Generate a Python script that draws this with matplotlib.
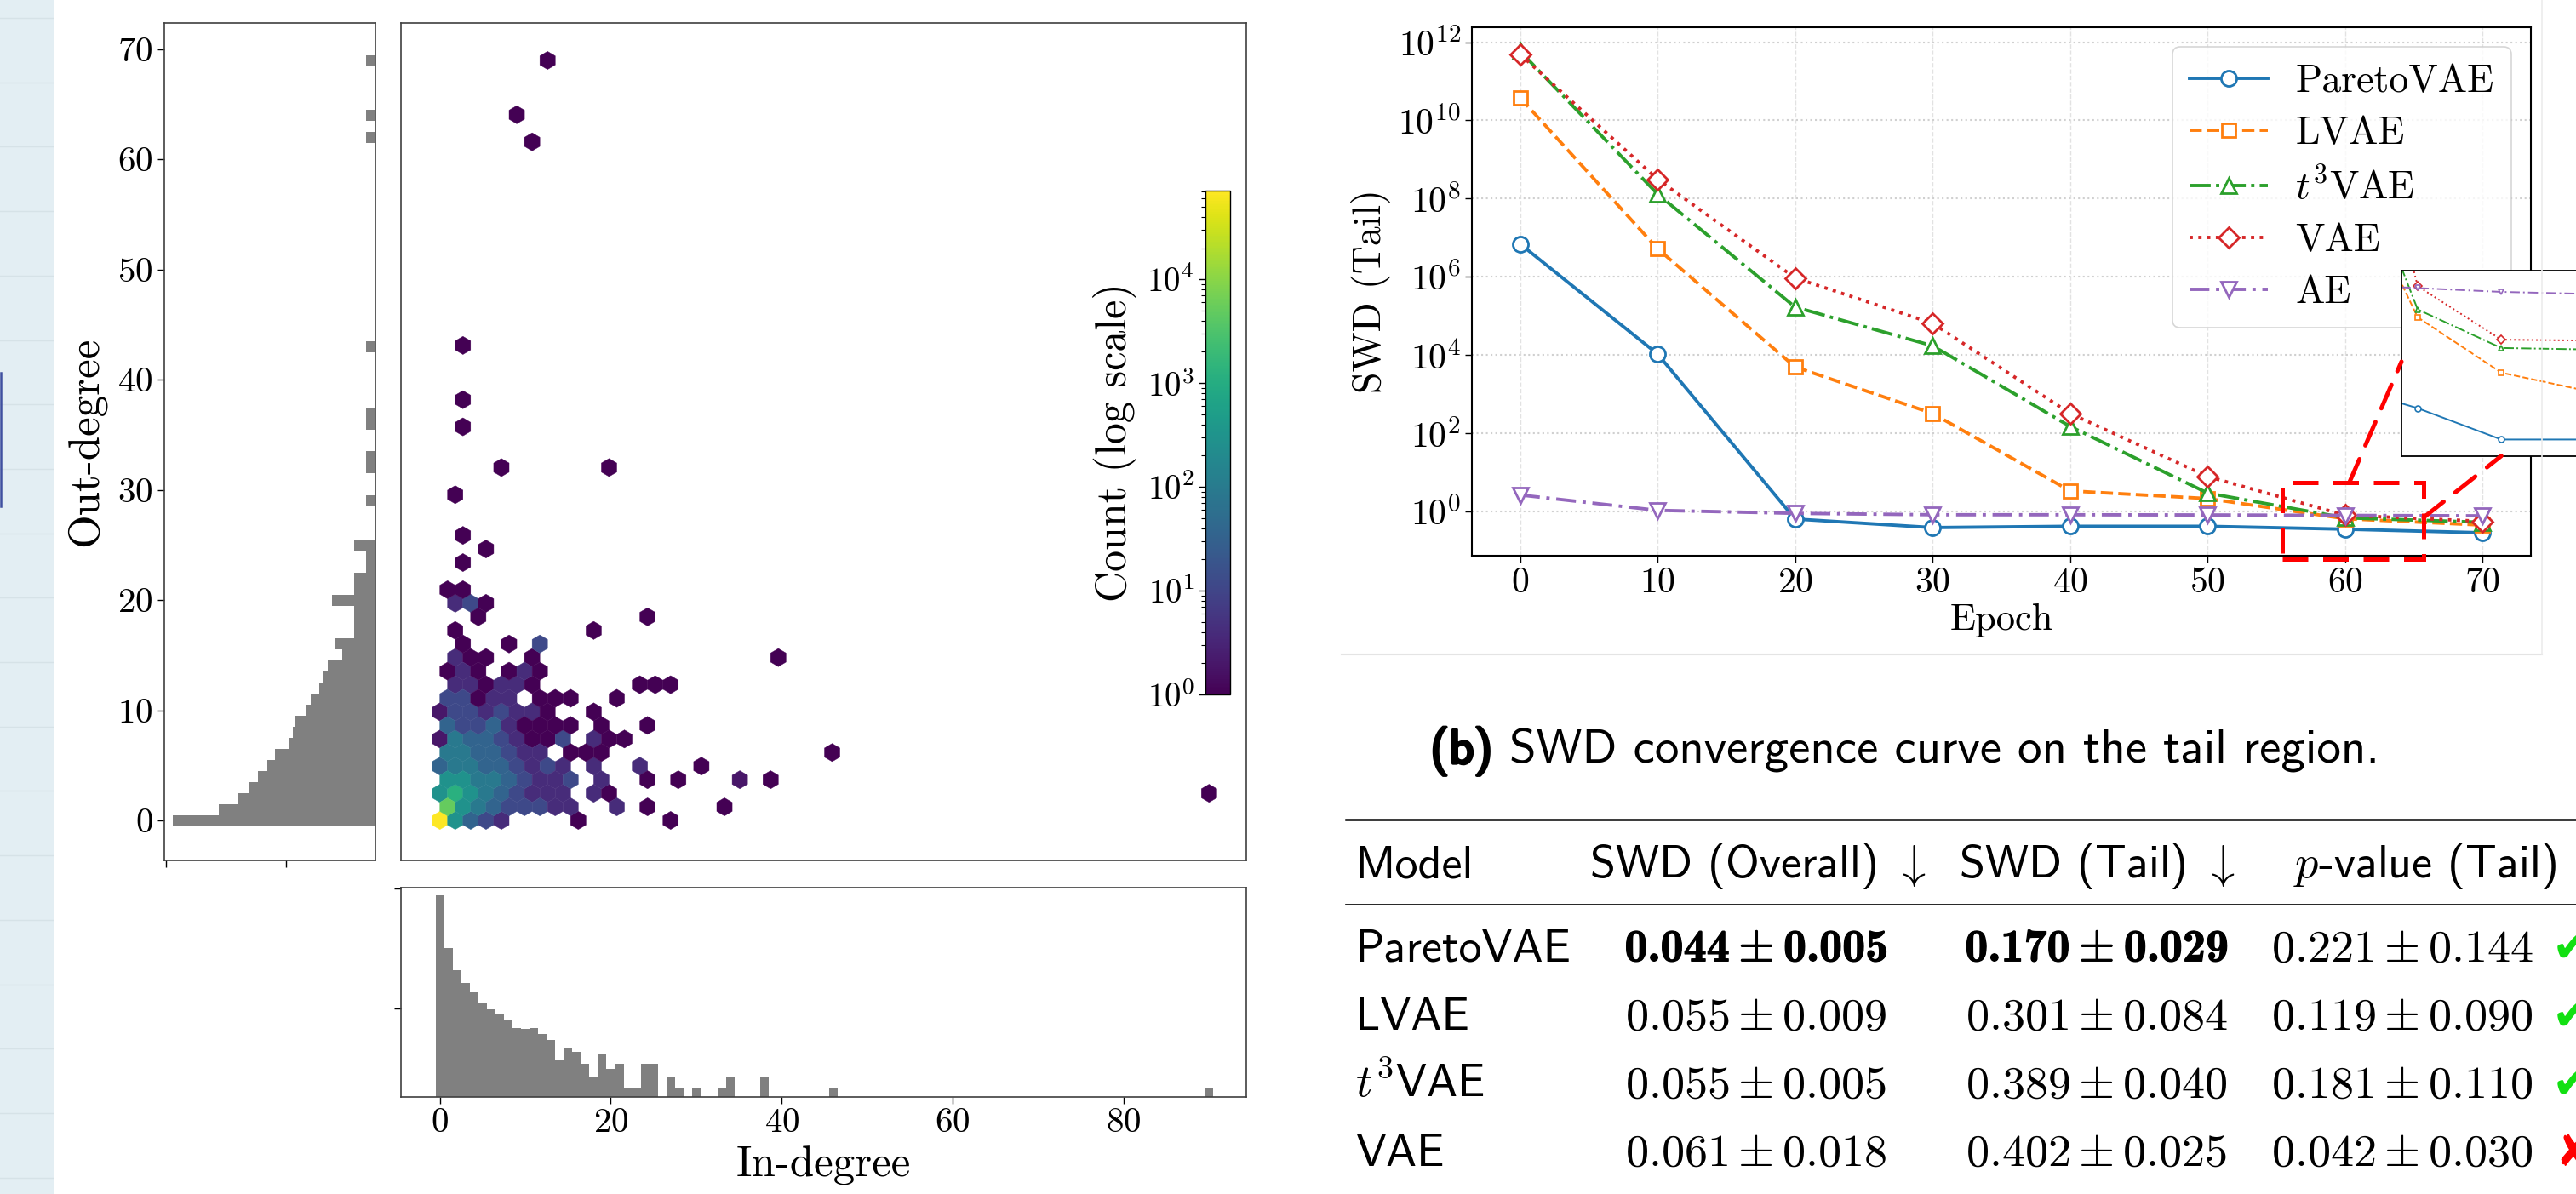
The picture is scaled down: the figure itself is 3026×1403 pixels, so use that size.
import numpy as np
import matplotlib
matplotlib.use('Agg')
import matplotlib.pyplot as plt
from matplotlib.patches import Rectangle, ConnectionPatch
from matplotlib.lines import Line2D
import matplotlib.patheffects as pe
from matplotlib.ticker import NullLocator, FixedLocator

# ---------------- data: hexbin cells (in-degree, out-degree, node count) ----------------
hex_in_degree = [
    0, 2, 4, 5, 7, 16, 27,                                  # out 0
    1, 3, 4, 6, 8, 10, 12, 13, 15, 21, 24, 33,              # out 1
    0, 2, 4, 5, 7, 9, 11, 13, 14, 18, 20, 90,               # out 2
    1, 3, 4, 6, 8, 10, 12, 13, 15, 19, 24, 28, 35, 39,      # out 4
    0, 2, 4, 5, 7, 9, 11, 13, 14, 18, 23, 31,               # out 5
    1, 3, 4, 6, 8, 10, 12, 15, 17, 19, 46,                  # out 6
    0, 2, 4, 5, 7, 9, 11, 13, 14, 18, 20, 22,               # out 7
    1, 3, 4, 6, 8, 10, 12, 13, 15, 19, 24,                  # out 9
    0, 2, 4, 5, 7, 9, 11, 13, 18,                           # out 10
    1, 3, 4, 6, 8, 12, 13, 15, 21,                          # out 11
    2, 4, 5, 7, 9, 11, 23, 25, 27,                          # out 12
    1, 3, 4, 8, 10, 12,                                     # out 14
    2, 4, 5, 11, 40,                                        # out 15
    3, 8, 12,                                               # out 16
    2, 18, 5, 24, 2, 4, 5, 1, 3, 3, 5, 3, 2, 7, 20, 3, 3, 3, 11, 9, 13,
]
hex_out_degree = [
    0, 0, 0, 0, 0, 0, 0,
    1, 1, 1, 1, 1, 1, 1, 1, 1, 1, 1, 1,
    2, 2, 2, 2, 2, 2, 2, 2, 2, 2, 2, 2,
    4, 4, 4, 4, 4, 4, 4, 4, 4, 4, 4, 4, 4, 4,
    5, 5, 5, 5, 5, 5, 5, 5, 5, 5, 5, 5,
    6, 6, 6, 6, 6, 6, 6, 6, 6, 6, 6,
    7, 7, 7, 7, 7, 7, 7, 7, 7, 7, 7, 7,
    9, 9, 9, 9, 9, 9, 9, 9, 9, 9, 9,
    10, 10, 10, 10, 10, 10, 10, 10, 10,
    11, 11, 11, 11, 11, 11, 11, 11, 11,
    12, 12, 12, 12, 12, 12, 12, 12, 12,
    14, 14, 14, 14, 14, 14,
    15, 15, 15, 15, 15,
    16, 16, 16,
    17, 17, 18, 18, 20, 20, 20, 21, 21, 23, 25, 26, 30, 32, 32, 36, 38, 43, 62, 64, 69,
]
hex_count = [
    71600, 300, 35, 12, 4, 1, 1,
    5000, 300, 90, 35, 12, 12, 12, 4, 4, 4, 1, 1,
    300, 1200, 300, 90, 35, 12, 4, 4, 4, 4, 1, 1,
    300, 300, 90, 90, 35, 12, 4, 4, 12, 4, 1, 1, 2, 1,
    35, 90, 90, 35, 35, 12, 4, 12, 4, 4, 4, 1,
    90, 90, 35, 35, 12, 4, 4, 1, 1, 1, 1,
    2, 90, 35, 35, 12, 4, 1, 1, 12, 4, 1, 1,
    35, 12, 12, 35, 4, 1, 1, 1, 1, 1, 1,
    2, 12, 12, 4, 12, 4, 4, 1, 1,
    12, 12, 1, 4, 4, 1, 1, 1, 1,
    4, 4, 1, 4, 4, 1, 1, 1, 1,
    1, 4, 1, 1, 4, 1,
    4, 1, 1, 1, 1,
    1, 1, 12,
    1, 1, 1, 1, 4, 12, 1, 1, 1, 1, 1, 1, 1, 1, 1, 1, 1, 1, 1, 1, 1,
]

# marginal histograms (count of nodes per degree value)
in_degree_values = list(range(0, 26)) + [27, 28, 30, 33, 34, 38, 46, 90]
in_degree_counts = [70000, 3200, 910, 430, 250, 135, 97, 70, 52, 32, 30, 32, 23, 16, 5,
                    10, 8, 4, 2, 7, 3, 4, 1, 1, 4, 4, 2, 1, 1, 1, 2, 2, 1, 1]
out_degree_values = list(range(0, 26)) + [29, 32, 33, 36, 37, 43, 62, 64, 69]
out_degree_counts = [66000, 4800, 1650, 870, 490, 300, 190, 88, 69, 58, 33, 24, 15, 12, 9,
                     4, 6, 2, 2, 2, 7, 2, 2, 1, 1, 2, 1, 1, 1, 1, 1, 1, 1, 1, 1]

# ---------------- data: SWD convergence ----------------
epochs = [0, 10, 20, 30, 40, 50, 60, 70, 80]
main_last_epoch = 70
swd_pareto = [6.9e6, 1.05e4, 0.63, 0.38, 0.41, 0.41, 0.346, 0.28, 0.28]
swd_lvae = [3.8e10, 5.2e6, 4900, 316, 3.3, 2.1, 0.64, 0.44, 0.39]
swd_t3vae = [5.9e11, 1.3e8, 1.67e5, 1.7e4, 147, 2.9, 0.675, 0.52, 0.515]
swd_vae = [4.9e11, 3.1e8, 9.3e5, 6.4e4, 316, 7.7, 0.79, 0.55, 0.547]
swd_ae = [2.6, 1.05, 0.88, 0.81, 0.81, 0.80, 0.78, 0.76, 0.75]
series_labels = ['ParetoVAE', 'LVAE', r'$t^3$VAE', 'VAE', 'AE']

# ---------------- data: table ----------------
model_names = ['ParetoVAE', 'LVAE', r'$t^3$VAE', 'VAE']
swd_overall_mean = [0.044, 0.055, 0.055, 0.061]
swd_overall_std = [0.005, 0.009, 0.005, 0.018]
swd_tail_mean = [0.170, 0.301, 0.389, 0.402]
swd_tail_std = [0.029, 0.084, 0.040, 0.025]
pval_mean = [0.221, 0.119, 0.181, 0.042]
pval_std = [0.144, 0.090, 0.110, 0.030]
pval_pass = [True, True, True, False]

# ---------------- style ----------------
plt.rcParams.update({
    'font.family': 'serif',
    'font.serif': ['cmr10'],
    'mathtext.fontset': 'cm',
    'axes.formatter.use_mathtext': True,
    'axes.unicode_minus': False,
})

W, H = 3026, 1403
fig = plt.figure(figsize=(W / 100, H / 100), dpi=100)


def rect(x0, y0, x1, y1):
    return [x0 / W, 1 - y1 / H, (x1 - x0) / W, (y1 - y0) / H]


def fx(x):
    return x / W


def fy(y):
    return 1 - y / H


# ---------------- left page strip ----------------
ax_bg = fig.add_axes(rect(0, 0, 63, H))
ax_bg.set_facecolor('#e3eef3')
ax_bg.set_xlim(0, 1)
ax_bg.set_ylim(H, 0)
for yy in np.arange(21, H, 75.7):
    ax_bg.axhline(yy, color='#d6e2e7', lw=1)
for s in ax_bg.spines.values():
    s.set_visible(False)
ax_bg.set_xticks([])
ax_bg.set_yticks([])
fig.add_artist(Line2D([fx(1), fx(1)], [fy(438), fy(595)], color='#4050a0', lw=1.8))

spine_c = '#404040'
# ---------------- main hexbin ----------------
ax_m = fig.add_axes(rect(471, 27, 1464, 1011))
hb = ax_m.hexbin(hex_in_degree, hex_out_degree, C=hex_count, reduce_C_function=np.sum,
                 gridsize=50, bins='log', cmap='viridis', linewidths=0.3)
ax_m.set_xlim(-4.55, 94.35)
ax_m.set_ylim(-3.63, 72.4)
ax_m.tick_params(which='both', bottom=False, left=False, labelbottom=False, labelleft=False)
for s in ax_m.spines.values():
    s.set_color(spine_c)
    s.set_linewidth(1.2)

# colorbar
cax = fig.add_axes(rect(1416, 224, 1445, 816))
cb = fig.colorbar(hb, cax=cax)
cax.yaxis.set_ticks_position('left')
cax.yaxis.set_label_position('left')
cb.set_label('Count (log scale)', fontsize=36, labelpad=8)
cax.tick_params(which='major', labelsize=28, length=6, width=1)
cax.tick_params(which='minor', length=3.5, width=0.8)
cb.outline.set_linewidth(1)

# ---------------- left marginal (out-degree) ----------------
ax_l = fig.add_axes(rect(193, 27, 441, 1011))
ax_l.hist(out_degree_values, bins=np.arange(-0.5, 70.5, 1), weights=out_degree_counts,
          orientation='horizontal', color='#808080', log=True)
ax_l.set_xscale('log')
ax_l.set_xlim(10 ** 5.04, 10 ** -0.234)
ax_l.set_ylim(-3.63, 72.4)
ax_l.xaxis.set_major_locator(FixedLocator([1e2, 1e5]))
ax_l.xaxis.set_minor_locator(NullLocator())
ax_l.tick_params(axis='x', labelbottom=False, length=6, width=1)
ax_l.set_yticks([0, 10, 20, 30, 40, 50, 60, 70])
ax_l.tick_params(axis='y', labelsize=29.5, length=6, width=1)
ax_l.set_ylabel('Out-degree', fontsize=36.7, labelpad=10)
for s in ax_l.spines.values():
    s.set_color(spine_c)
    s.set_linewidth(1.2)

# ---------------- bottom marginal (in-degree) ----------------
ax_b = fig.add_axes(rect(471, 1043, 1464, 1289))
ax_b.hist(in_degree_values, bins=np.arange(-0.5, 91.5, 1), weights=in_degree_counts,
          color='#808080', log=True)
ax_b.set_yscale('log')
ax_b.set_ylim(10 ** -0.22, 10 ** 5.03)
ax_b.set_xlim(-4.55, 94.35)
ax_b.yaxis.set_major_locator(FixedLocator([1e2, 1e5]))
ax_b.yaxis.set_minor_locator(NullLocator())
ax_b.tick_params(axis='y', labelleft=False, length=6, width=1)
ax_b.set_xticks([0, 20, 40, 60, 80])
ax_b.tick_params(axis='x', labelsize=29.5, length=6, width=1)
ax_b.set_xlabel('In-degree', fontsize=36.7, labelpad=6)
for s in ax_b.spines.values():
    s.set_color(spine_c)
    s.set_linewidth(1.2)

# ---------------- SWD convergence plot ----------------
ep = np.array(epochs)
main_mask = ep <= main_last_epoch
series = [swd_pareto, swd_lvae, swd_t3vae, swd_vae, swd_ae]
colors = ['#1f77b4', '#ff7f0e', '#2ca02c', '#d62728', '#9467bd']
styles = ['-', '--', '-.', ':', (0, (6, 2, 1, 2))]
markers = ['o', 's', '^', 'D', 'v']
msizes = [13, 12, 13, 12, 13]

ax_s = fig.add_axes(rect(1729, 31.6, 2973, 653))
for vals, c, ls, mk, ms, lab in zip(series, colors, styles, markers, msizes, series_labels):
    v = np.array(vals)
    ax_s.plot(ep[main_mask], v[main_mask], color=c, linestyle=ls, marker=mk, markersize=ms,
              markerfacecolor='white', markeredgewidth=2, linewidth=2.8, label=lab)
ax_s.set_yscale('log')
ax_s.set_xlim(-3.5, 73.5)
ax_s.set_ylim(10 ** -1.14, 10 ** 12.39)
ax_s.set_xticks([0, 10, 20, 30, 40, 50, 60, 70])
ax_s.yaxis.set_major_locator(FixedLocator([10.0 ** k for k in range(0, 13, 2)]))
ax_s.yaxis.set_minor_locator(NullLocator())
ax_s.tick_params(labelsize=30, length=6, width=1)
ax_s.set_xlabel('Epoch', fontsize=32, labelpad=4)
ax_s.set_ylabel('SWD (Tail)', fontsize=33, labelpad=6)
ax_s.grid(True, axis='x', linestyle='--', color='#e2e2e2', lw=1)
ax_s.grid(True, axis='y', linestyle=':', color='#d0d0d0', lw=1.5)
ax_s.set_axisbelow(True)
for s in ax_s.spines.values():
    s.set_color('black')
    s.set_linewidth(1.5)
leg = ax_s.legend(loc='upper right', fontsize=33, handlelength=2.0, frameon=True,
                  fancybox=True, framealpha=0.8, edgecolor='#cccccc', borderpad=0.45,
                  labelspacing=0.42, handletextpad=0.7)
leg.get_frame().set_linewidth(1.2)

# zoom rectangle on main plot
red_dash = (0, (6, 3.5))
zoom_rect = Rectangle((55.4, 0.059), 10.3, 5.4 - 0.059, fill=False, edgecolor='#ff0000',
                      lw=3.6, linestyle=red_dash, clip_on=False, zorder=5)
ax_s.add_patch(zoom_rect)

# inset
ax_in = fig.add_axes(rect(2821, 317.7, 3126, 535.7))
for vals, c, ls, mk in zip(series, colors, styles, markers):
    ax_in.plot(ep, vals, color=c, linestyle=ls, marker=mk, markersize=5,
               markerfacecolor='white', markeredgewidth=1.2, linewidth=1.4)
ax_in.set_yscale('log')
ax_in.set_xlim(58.07, 89.1)
ax_in.set_ylim(10 ** -0.601, 10 ** -0.056)
ax_in.tick_params(which='both', left=False, bottom=False, labelleft=False, labelbottom=False)
for s in ax_in.spines.values():
    s.set_color('black')
    s.set_linewidth(1.3)

con1 = ConnectionPatch(xyA=(60.3, 5.4), coordsA=ax_s.transData, xyB=(0, 0.508),
                       coordsB=ax_in.transAxes, color='#ff0000', lw=3.6, linestyle=red_dash)
con2 = ConnectionPatch(xyA=(65.7, 0.687), coordsA=ax_s.transData, xyB=(70, 10 ** -0.601),
                       coordsB=ax_in.transData, color='#ff0000', lw=3.6, linestyle=red_dash)
fig.add_artist(con1)
fig.add_artist(con2)

# light frame around the sub-figure
fig.add_artist(Line2D([fx(1576), fx(2986)], [fy(769), fy(769)], color='#e4e4e4', lw=1.5))
fig.add_artist(Line2D([fx(2986), fx(2986)], [fy(0), fy(769)], color='#ececec', lw=1.2))

# ---------------- caption ----------------
renderer = fig.canvas.get_renderer()
cap_x, cap_y = fx(1680), fy(897)
t_b = fig.text(cap_x, cap_y, '(b)', family='cmss10', fontsize=41, va='baseline', ha='left',
               path_effects=[pe.withStroke(linewidth=2.4, foreground='black')])
bb = t_b.get_window_extent(renderer=renderer)
fig.text(bb.x1 / W, cap_y, ' SWD convergence curve on the tail region.', family='cmss10',
         fontsize=41, va='baseline', ha='left')

# ---------------- table ----------------
fig.add_artist(Line2D([fx(1581), fx(3030)], [fy(962.8), fy(962.8)], color='black', lw=1.8))
fig.add_artist(Line2D([fx(1581), fx(3030)], [fy(1063), fy(1063)], color='black', lw=1.2))
tfs = 39
hdr_y = fy(1031)
fig.text(fx(1592), hdr_y, 'Model', family='cmss10', fontsize=tfs, va='baseline')
fig.text(fx(2065), hdr_y, r'SWD (Overall) $\downarrow$', family='cmss10', fontsize=tfs,
         va='baseline', ha='center')
fig.text(fx(2463), hdr_y, r'SWD (Tail) $\downarrow$', family='cmss10', fontsize=tfs,
         va='baseline', ha='center')
fig.text(fx(2694), hdr_y, r'$p$-value (Tail)', family='cmss10', fontsize=tfs,
         va='baseline', ha='left')

row_base = [1129.6, 1210, 1289.7, 1370]
best_overall = int(np.argmin(swd_overall_mean))
best_tail = int(np.argmin(swd_tail_mean))


def cell(x, y, m, s, bold=False):
    if bold:
        fig.text(x, y, r'%.3f$\:\pm\:$%.3f' % (m, s), family='cmb10', fontsize=tfs,
                 va='baseline', ha='center',
                 path_effects=[pe.withStroke(linewidth=0.8, foreground='black')])
    else:
        fig.text(x, y, r'$%.3f\pm%.3f$' % (m, s), fontsize=tfs, va='baseline', ha='center')


for i, name in enumerate(model_names):
    yb = fy(row_base[i])
    fig.text(fx(1592), yb, name, family='cmss10', fontsize=tfs, va='baseline')
    cell(fx(2063), yb, swd_overall_mean[i], swd_overall_std[i], i == best_overall)
    cell(fx(2463), yb, swd_tail_mean[i], swd_tail_std[i], i == best_tail)
    cell(fx(2822), yb, pval_mean[i], pval_std[i])
    if pval_pass[i]:
        fig.text(fx(2998), yb, '\u2714', family='DejaVu Sans', fontsize=tfs, va='baseline',
                 ha='left', color='#12e012')
    else:
        fig.text(fx(3001), yb, '\u2718', family='DejaVu Sans', fontsize=tfs, va='baseline',
                 ha='left', color='#ff0000')

fig.savefig('out.png', dpi=100, facecolor='white')
